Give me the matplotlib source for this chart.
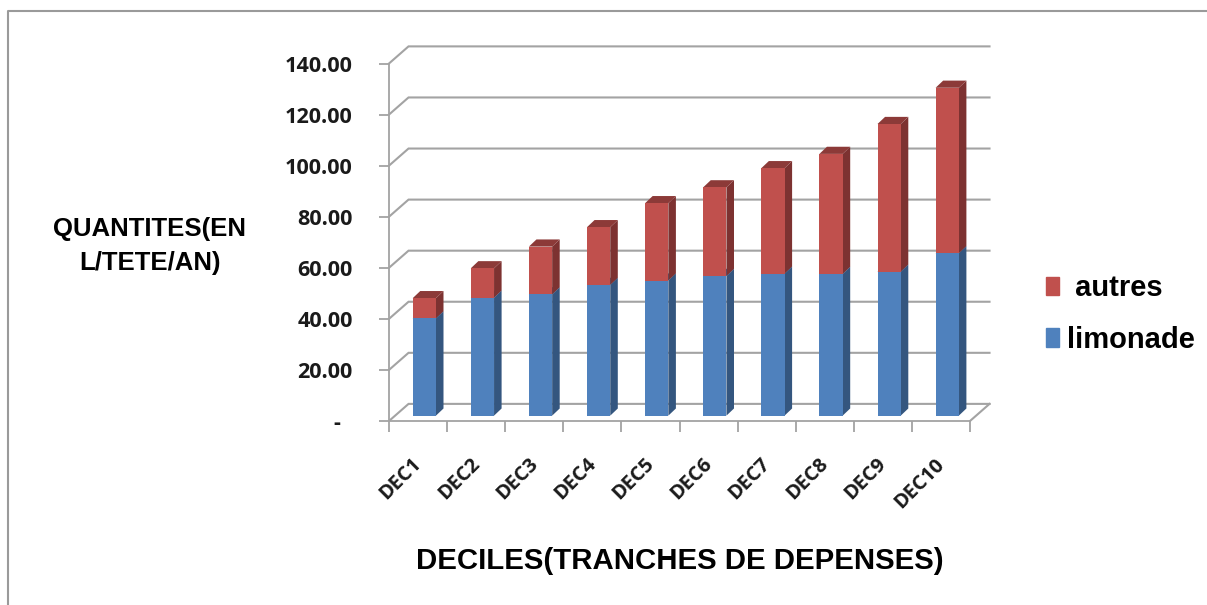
import matplotlib
matplotlib.use('Agg')
import matplotlib.pyplot as plt
from matplotlib.lines import Line2D
from matplotlib.patches import Patch, Polygon

W, H = 1207, 605

deciles = ['DEC1', 'DEC2', 'DEC3', 'DEC4', 'DEC5', 'DEC6', 'DEC7', 'DEC8', 'DEC9', 'DEC10']
limonade = [38.1, 46.2, 47.5, 51.2, 52.9, 54.7, 55.6, 55.5, 56.4, 63.6]
autres = [7.9, 11.5, 18.7, 22.6, 30.3, 34.7, 41.3, 47.0, 57.8, 64.8]
y_ticks = [0, 20, 40, 60, 80, 100, 120, 140]
y_labels = ['-  ', '20.00', '40.00', '60.00', '80.00', '100.00', '120.00', '140.00']

GREY = '#a3a3a3'
BLUE, BLUE_SIDE, BLUE_TOP = '#4f81bd', '#34567f', '#3f6797'
RED, RED_SIDE, RED_TOP = '#c0504d', '#7d3231', '#8c3a38'

# depth of the fake 3d box and of the bars, in data units
WALL_DX, WALL_DY = 0.336, 6.7
BAR_DX, BAR_DY = 0.13, 2.8
BAR_W = 0.4
BAR_SHIFT = 0.108
BAR_BASE = 2.1

fig = plt.figure(figsize=(W / 100, H / 100), dpi=100)
ax = fig.add_axes([389 / W, 1 - 421 / H, 581 / W, 357.5 / H])
ax.set_xlim(0, 10)
ax.set_ylim(0, 140)
ax.patch.set_visible(False)
for s in ['top', 'right']:
    ax.spines[s].set_visible(False)
for s in ['left', 'bottom']:
    ax.spines[s].set_color(GREY)
    ax.spines[s].set_linewidth(1.3)

# back wall lines
for v in y_ticks:
    ax.plot([0, WALL_DX, 10 + WALL_DX], [v, v + WALL_DY, v + WALL_DY], color=GREY,
            lw=1.5, clip_on=False, zorder=1, solid_joinstyle='miter')
ax.plot([10, 10 + WALL_DX], [0, WALL_DY], color=GREY, lw=1.5, clip_on=False, zorder=1)


def bar3d(i, bottom, height, front, side, top):
    x0 = i + 0.5 + BAR_SHIFT - BAR_W / 2
    x1 = x0 + BAR_W
    y0 = BAR_BASE + bottom
    y1 = y0 + height
    ax.add_patch(Polygon([(x1, y0), (x1 + BAR_DX, y0 + BAR_DY), (x1 + BAR_DX, y1 + BAR_DY), (x1, y1)],
                         fc=side, ec='none', clip_on=False, zorder=3))
    ax.add_patch(Polygon([(x0, y1), (x0 + BAR_DX, y1 + BAR_DY), (x1 + BAR_DX, y1 + BAR_DY), (x1, y1)],
                         fc=top, ec='none', clip_on=False, zorder=3))
    ax.bar(i + 0.5 + BAR_SHIFT, height, BAR_W, bottom=y0, color=front, zorder=4, clip_on=False)


for i in range(len(deciles)):
    bar3d(i, 0, limonade[i], BLUE, BLUE_SIDE, BLUE_TOP)
    bar3d(i, limonade[i], autres[i], RED, RED_SIDE, RED_TOP)

ax.set_yticks(y_ticks)
ax.set_yticklabels(y_labels, family='Open Sans', fontweight='bold', fontsize=15.6, color='#1a1a1a')
ax.tick_params(axis='y', length=7.2, width=1.3, color=GREY, pad=19)

ax.set_xticks(range(11))
ax.set_xticklabels([])
ax.tick_params(axis='x', which='major', length=8, width=1.3, color=GREY)
ax.set_xticks([i + 0.51 for i in range(10)], minor=True)
ax.set_xticklabels(deciles, minor=True, rotation=45, ha='right', va='center', rotation_mode='anchor',
                   family='Open Sans', fontweight='bold', fontsize=14.5, color='#1a1a1a')
ax.tick_params(axis='x', which='minor', length=0, pad=29)

fig.text(150 / W, 1 - 229 / H, 'QUANTITES(EN', family='Liberation Sans', fontweight='bold',
         fontsize=18.5, ha='center', va='center', color='black')
fig.text(150 / W, 1 - 263 / H, 'L/TETE/AN)', family='Liberation Sans', fontweight='bold',
         fontsize=18.5, ha='center', va='center', color='black')
fig.text(680 / W, 1 - 561 / H, 'DECILES(TRANCHES DE DEPENSES)', family='Liberation Sans',
         fontweight='bold', fontsize=21.2, ha='center', va='center', color='black')

handles = [Patch(color=RED), Patch(color=BLUE)]
fig.legend(handles, [' autres', 'limonade'], loc='center left', bbox_to_anchor=(1020 / W, 1 - 314 / H),
           frameon=False, prop={'family': 'Liberation Sans', 'weight': 'bold', 'size': 21},
           handlelength=0.45, handleheight=0.58, handletextpad=0.27, labelspacing=0.81)

# outer frame, only top and left are visible
fig.add_artist(Line2D([8 / W, 8 / W, 1], [0, 1 - 11 / H, 1 - 11 / H], color='#9a9a9a', lw=1.5))

fig.savefig('out.png', dpi=100)
plt.close()
